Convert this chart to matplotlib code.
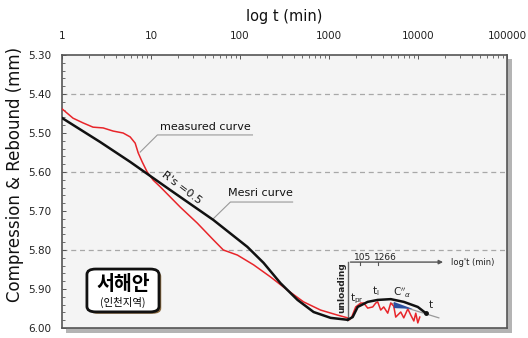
import numpy as np
import matplotlib
matplotlib.use("Agg")
import matplotlib.pyplot as plt
from matplotlib.patches import Rectangle, FancyBboxPatch, Polygon
from matplotlib.ticker import FixedLocator, FixedFormatter, MultipleLocator, LogLocator, NullFormatter

plt.rcParams['font.family'] = ['DejaVu Sans', 'Noto Sans CJK KR']
plt.rcParams['mathtext.fontset'] = 'dejavusans'

# x tick labels (log t, min)
x_ticks = [1, 10, 100, 1000, 10000, 100000]
x_labels = ['1', '10', '100', '1000', '10000', '100000']
y_ticks = [5.30, 5.40, 5.50, 5.60, 5.70, 5.80, 5.90, 6.00]

# Mesri curve (black)
mesri_t = [1, 2.68, 5.83, 16.4, 21.3, 50.2, 121, 184, 285, 443, 671, 1042, 1620]
mesri_v = [5.4615, 5.523, 5.574, 5.646, 5.664, 5.723, 5.792, 5.833, 5.885, 5.928, 5.959, 5.974, 5.979]

# rebound part of the fitted curve
reb_t = [1620, 1845, 2100, 2720, 3525, 4940, 6920, 9950, 12250]
reb_v = [5.979, 5.972, 5.946, 5.933, 5.928, 5.926, 5.933, 5.946, 5.962]

# measured curve (red)
meas_t = [1, 1.14, 1.33, 1.72, 2.23, 2.90, 3.75, 4.86, 5.83, 6.64, 7.18, 7.96, 9.06, 10.6,
          12.7, 21.3, 33.1, 50.2, 65.0, 93.5, 142, 220, 342, 518, 804, 1250, 1620, 1700,
          1798, 1995, 2270, 2455, 2723, 3100, 3350, 3525, 3810, 4120, 4570, 4940,
          5340, 5620, 6400, 6920, 7680, 8300, 8980, 9440, 9950, 10470]
meas_v = [5.438, 5.449, 5.462, 5.474, 5.485, 5.487, 5.495, 5.500, 5.510, 5.526, 5.551, 5.574,
          5.600, 5.621, 5.638, 5.690, 5.731, 5.774, 5.800, 5.813, 5.838, 5.869, 5.903, 5.933,
          5.954, 5.967, 5.974, 5.979,
          5.972, 5.946, 5.936, 5.936, 5.949, 5.946, 5.936, 5.933, 5.954, 5.946, 5.962, 5.936,
          5.944, 5.972, 5.959, 5.974, 5.951, 5.967, 5.982, 5.962, 5.987, 5.972]

fig = plt.figure(figsize=(5.28, 3.38), dpi=100)
ax = fig.add_axes([62/528, 1-328/338, 445/528, 273/338])

# shadow behind the frame
fig.patches.append(Rectangle((66/528, 1-333/338), 446/528, 274/338, transform=fig.transFigure,
                             facecolor='#b4b4b4', edgecolor='none', zorder=0))
ax.set_facecolor('#f4f4f4')
ax.set_zorder(1)

ax.set_xscale('log')
ax.set_xlim(1, 100000)
ax.set_ylim(6.00, 5.30)

for yy in [5.40, 5.60, 5.80]:
    ax.axhline(yy, color='#a8a8a8', lw=0.9, ls=(0, (4, 3)), zorder=1)

ax.plot(meas_t, meas_v, color='#e8252a', lw=1.1, zorder=3, solid_joinstyle='round')
ax.plot(mesri_t, mesri_v, color='#111111', lw=1.8, zorder=4, solid_joinstyle='round')
ax.plot(reb_t, reb_v, color='#111111', lw=1.8, zorder=4, solid_joinstyle='round')

# tangent line + C'a triangle
ax.plot([4940, 17140], [5.936, 5.974], color='#999999', lw=0.9, zorder=2)
ax.add_patch(Polygon([[5340, 5.933], [5340, 5.949], [8740, 5.951]], closed=True,
                     facecolor='#2a4fa0', edgecolor='none', zorder=3))
ax.plot([12250], [5.962], 'o', color='#111111', ms=2.5, zorder=5)

# unloading axes
ax.plot([1620, 1620], [5.831, 5.975], color='#666666', lw=1.0, zorder=3)
ax.annotate('', xy=(20560, 5.831), xytext=(1620, 5.831),
            arrowprops=dict(arrowstyle='-|>', color='#555555', lw=1.0, mutation_scale=6), zorder=3)
for tk in [2213, 3525]:
    ax.plot([tk, tk], [5.831, 5.838], color='#555555', lw=0.8, zorder=3)
ax.text(2390, 5.818, '105', fontsize=6.5, ha='center', va='center', color='#222222')
ax.text(4340, 5.818, '1266', fontsize=6.5, ha='center', va='center', color='#222222')
ax.text(23400, 5.831, "log't (min)", fontsize=6, ha='left', va='center', color='#222222')
ax.text(1387, 5.897, 'unloading', fontsize=6.5, rotation=90, ha='center', va='center',
        color='#222222', fontweight='bold')
ax.text(2046, 5.926, r'$\mathrm{t_{pr}}$', fontsize=7.5, ha='center', va='center', color='#222222')
ax.text(3350, 5.905, r'$\mathrm{t_{l}}$', fontsize=7.5, ha='center', va='center', color='#222222')
ax.text(6575, 5.910, r"$\mathrm{C}''_{\alpha}$", fontsize=7.5, ha='center', va='center', color='#222222')
ax.text(13930, 5.941, 't', fontsize=7.5, ha='center', va='center', color='#222222')

# curve labels with leader lines
ax.text(40.8, 5.485, 'measured curve', fontsize=8, ha='center', va='center', color='#111111')
ax.plot([138, 11.8, 7.55], [5.505, 5.505, 5.549], color='#999999', lw=0.8, zorder=2)
ax.text(169, 5.654, 'Mesri curve', fontsize=8, ha='center', va='center', color='#111111')
ax.plot([390, 78, 50], [5.677, 5.677, 5.720], color='#999999', lw=0.8, zorder=2)
ax.text(22, 5.640, "R's =0.5", fontsize=8, rotation=-37, ha='center', va='center',
        color='#111111', rotation_mode='anchor')

# region box
ax.add_patch(FancyBboxPatch((0.061, 0.052), 0.162, 0.157, boxstyle='round,pad=0,rounding_size=0.02',
                            transform=ax.transAxes, facecolor='#8a6a40', edgecolor='none', zorder=5))
ax.add_patch(FancyBboxPatch((0.056, 0.059), 0.162, 0.157, boxstyle='round,pad=0,rounding_size=0.02',
                            transform=ax.transAxes, facecolor='white', edgecolor='#111111', lw=2.0, zorder=6))
ax.text(0.137, 0.160, '서해안', transform=ax.transAxes, fontsize=14, fontweight='bold',
        ha='center', va='center', family=['Noto Sans CJK KR', 'DejaVu Sans'], zorder=7)
ax.text(0.137, 0.095, '(인천지역)', transform=ax.transAxes, fontsize=7.5,
        ha='center', va='center', family=['Noto Sans CJK KR', 'DejaVu Sans'], zorder=7)

# axes styling
ax.xaxis.tick_top()
ax.xaxis.set_label_position('top')
ax.xaxis.set_major_locator(FixedLocator(x_ticks))
ax.xaxis.set_major_formatter(FixedFormatter(x_labels))
ax.xaxis.set_minor_locator(LogLocator(base=10, subs=np.arange(2, 10)))
ax.xaxis.set_minor_formatter(NullFormatter())
ax.set_yticks(y_ticks)
ax.set_yticklabels(['%.2f' % v for v in y_ticks])
ax.yaxis.set_minor_locator(MultipleLocator(0.02))
ax.tick_params(which='both', direction='in', colors='#555555', labelcolor='#222222', labelsize=7.5)
ax.tick_params(which='major', length=3, width=0.7)
ax.tick_params(which='minor', length=1.8, width=0.6)
ax.tick_params(axis='x', pad=10)
ax.tick_params(axis='y', pad=8)
for s in ax.spines.values():
    s.set_color('#555555')
    s.set_linewidth(1.2)

ax.set_xlabel('log t (min)', fontsize=10.5, labelpad=7, color='#111111')
fig.text(15/528, 1-174/338, 'Compression & Rebound (mm)', fontsize=12, rotation=90,
         ha='center', va='center', color='#111111')

fig.savefig('out.png', dpi=100)
